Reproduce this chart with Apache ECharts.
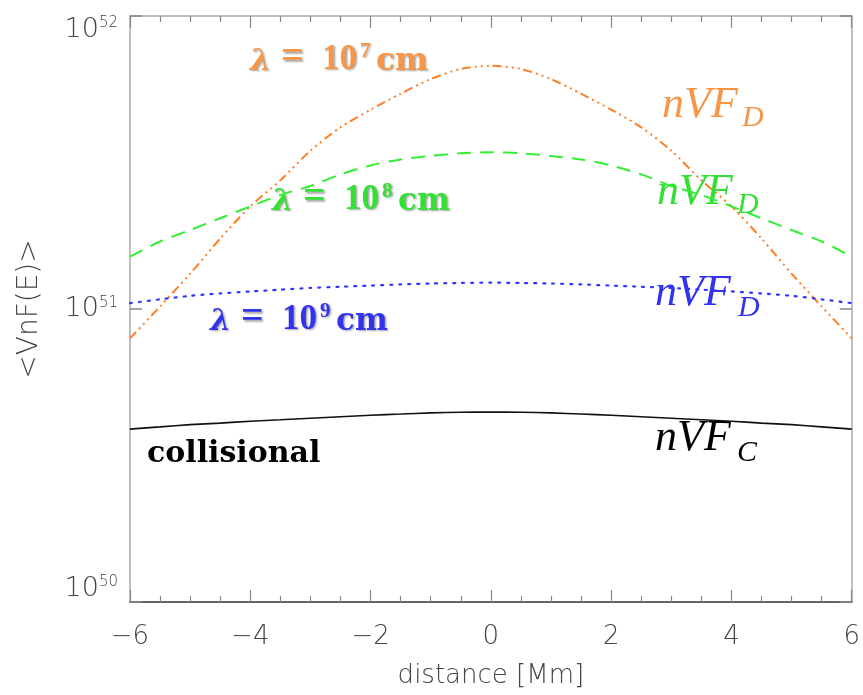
<!DOCTYPE html>
<html>
<head>
<meta charset="utf-8">
<script src="https://cdn.jsdelivr.net/npm/echarts@6/dist/echarts.min.js"></script>
<style>
  html, body { margin: 0; padding: 0; background: #fff; }
  #chart { width: 863px; height: 695px; }
</style>
</head>
<body>
<div id="chart"></div>
<script>
// distance [Mm]
var distance = [-6, -5.5, -5, -4.5, -4, -3.5, -3, -2.5, -2, -1.5, -1, -0.5, 0,
                 0.5, 1, 1.5, 2, 2.5, 3, 3.5, 4, 4.5, 5, 5.5, 6];

// <VnF(E)>
var lambda7 = [7.94e50, 1.02e51, 1.32e51, 1.74e51, 2.24e51, 2.75e51, 3.47e51, 4.17e51, 4.79e51, 5.43e51, 6.09e51, 6.60e51, 6.76e51,
               6.60e51, 6.09e51, 5.43e51, 4.79e51, 4.17e51, 3.47e51, 2.75e51, 2.24e51, 1.74e51, 1.32e51, 1.02e51, 7.94e50];
var lambda8 = [1.51e51, 1.70e51, 1.86e51, 2.04e51, 2.24e51, 2.45e51, 2.63e51, 2.88e51, 3.09e51, 3.24e51, 3.33e51, 3.40e51, 3.43e51,
               3.40e51, 3.33e51, 3.24e51, 3.09e51, 2.88e51, 2.63e51, 2.45e51, 2.24e51, 2.04e51, 1.86e51, 1.70e51, 1.51e51];
var lambda9 = [1.047e51, 1.079e51, 1.109e51, 1.130e51, 1.148e51, 1.164e51, 1.180e51, 1.191e51, 1.202e51, 1.213e51, 1.222e51, 1.227e51, 1.230e51,
               1.227e51, 1.222e51, 1.213e51, 1.202e51, 1.191e51, 1.180e51, 1.164e51, 1.148e51, 1.130e51, 1.109e51, 1.079e51, 1.047e51];
var collisional = [3.89e50, 3.96e50, 4.03e50, 4.08e50, 4.14e50, 4.19e50, 4.24e50, 4.29e50, 4.34e50, 4.38e50, 4.42e50, 4.44e50, 4.45e50,
                   4.44e50, 4.42e50, 4.38e50, 4.34e50, 4.29e50, 4.24e50, 4.19e50, 4.14e50, 4.08e50, 4.03e50, 3.96e50, 3.89e50];

function pairs(ys) {
  return distance.map(function (x, i) { return [x, ys[i]]; });
}

var chart = echarts.init(document.getElementById('chart'));
var axisFont = 'DejaVu Sans';

// y tick labels as 10^n
var yLabel = {
  color: '#444',
  margin: 12,
  verticalAlignMinLabel: 'bottom',
  verticalAlignMaxLabel: 'top',
  formatter: function (v) {
    var e = Math.round(Math.log10(v));
    return '{b|10}{s|' + e + '}';
  },
  rich: {
    b: { fontSize: 27, fontFamily: axisFont, fontWeight: 200, color: '#444' },
    s: { fontSize: 15, fontFamily: axisFont, fontWeight: 200, color: '#444', verticalAlign: 'top', padding: [0, 0, 12, 0] }
  }
};

// put a text piece so that its baseline sits at y
function piece(text, x, baseline, size, st) {
  return { type: 'text', left: x, top: Math.round(baseline - 0.85 * size),
           style: Object.assign({ text: text, fontSize: size }, st) };
}

// lambda labels (bold serif with soft shadow)
function lamLabel(x, baseline, color, exp) {
  var st = { fontFamily: 'Liberation Serif', fontWeight: 'bold', fill: color,
             textShadowColor: 'rgba(0,0,0,0.35)', textShadowBlur: 2, textShadowOffsetX: 1.5, textShadowOffsetY: 1.5 };
  var slab = Object.assign({}, st, { fontFamily: 'DejaVu Serif' });
  return [
    piece('λ', x, baseline, 30, Object.assign({}, slab, { fontStyle: 'italic' })),
    piece('=', x + 31, baseline, 40, st),
    piece('10', x + 72, baseline, 35, st),
    piece('' + exp, x + 110, baseline - 13, 21, st),
    piece('cm', x + 126, baseline, 31, slab)
  ];
}

// nVF_x labels (italic serif)
function nvfLabel(x, baseline, xs, subBase, color, sub) {
  var st = { fontFamily: 'Liberation Serif', fontStyle: 'italic', fill: color };
  return [
    piece('nVF', x, baseline, 44, st),
    piece(sub, xs, subBase, 30, st)
  ];
}

var graphics = []
  .concat(lamLabel(250, 72, '#f79646', 7))
  .concat(lamLabel(272, 212, '#33e033', 8))
  .concat(lamLabel(210, 332, '#3333ee', 9))
  .concat([piece('collisional', 147, 464, 30, { fontFamily: 'DejaVu Serif', fontWeight: 'bold', fill: '#000' })])
  .concat(nvfLabel(662, 120, 742, 128, '#f79646', 'D'))
  .concat(nvfLabel(657, 207, 737, 215, '#33e033', 'D'))
  .concat(nvfLabel(655, 308, 738, 318, '#3333ee', 'D'))
  .concat(nvfLabel(655, 453, 737, 463, '#000', 'C'));

chart.setOption({
  animation: false,
  backgroundColor: '#fff',
  grid: { left: 130, right: 9, top: 16, bottom: 93 },
  xAxis: [{
    type: 'value', min: -6, max: 6, interval: 2,
    name: 'distance [Mm]', nameLocation: 'middle', nameGap: 61,
    nameTextStyle: { fontFamily: axisFont, fontWeight: 200, fontSize: 26, color: '#444' },
    axisLine: { show: true, onZero: false, lineStyle: { color: '#333', width: 1.5 } },
    axisTick: { show: true, inside: true, length: 12, lineStyle: { color: '#888', width: 1.2 } },
    minorTick: { show: true, splitNumber: 4, length: 6, lineStyle: { color: '#888', width: 1.2 } },
    axisLabel: { fontFamily: axisFont, fontWeight: 200, fontSize: 26, color: '#444', margin: 22,
                 formatter: function (v) { return v < 0 ? '\u2212' + (-v) : '' + v; } },
    splitLine: { show: false }
  }, {
    type: 'value', min: -6, max: 6, interval: 2, position: 'top',
    axisLine: { show: true, onZero: false, lineStyle: { color: '#aaa', width: 1.5 } },
    axisTick: { show: true, inside: true, length: 12, lineStyle: { color: '#888', width: 1.2 } },
    minorTick: { show: true, splitNumber: 4, length: 6, lineStyle: { color: '#888', width: 1.2 } },
    axisLabel: { show: false },
    splitLine: { show: false }
  }],
  yAxis: [{
    type: 'log', logBase: 10, min: 1e50, max: 1e52,
    name: '<VnF(E)>', nameLocation: 'middle', nameGap: 86,
    nameTextStyle: { fontFamily: axisFont, fontWeight: 200, fontSize: 28, color: '#444' },
    axisLine: { show: true, onZero: false, lineStyle: { color: '#aaa', width: 1.5 } },
    axisTick: { show: true, inside: true, length: 12, lineStyle: { color: '#888', width: 1.5 } },
    axisLabel: yLabel,
    splitLine: { show: false }
  }, {
    type: 'log', logBase: 10, min: 1e50, max: 1e52, position: 'right',
    axisLine: { show: true, onZero: false, lineStyle: { color: '#aaa', width: 1.5 } },
    axisTick: { show: true, inside: true, length: 12, lineStyle: { color: '#888', width: 1.5 } },
    axisLabel: { show: false },
    splitLine: { show: false }
  }],
  series: [{
    name: 'lambda 1e7', type: 'line', data: pairs(lambda7), symbol: 'none', smooth: 0.25,
    lineStyle: { color: '#ff7f27', width: 2, type: [9, 4, 2, 4, 2, 4, 2, 4] }
  }, {
    name: 'lambda 1e8', type: 'line', data: pairs(lambda8), symbol: 'none', smooth: 0.25,
    lineStyle: { color: '#33ee33', width: 2, type: [14, 9] }
  }, {
    name: 'lambda 1e9', type: 'line', data: pairs(lambda9), symbol: 'none', smooth: 0.25,
    lineStyle: { color: '#3333ff', width: 2.2, type: [2, 7], cap: 'round' }
  }, {
    name: 'collisional', type: 'line', data: pairs(collisional), symbol: 'none', smooth: 0.25,
    lineStyle: { color: '#111', width: 1.6 }
  }],
  graphic: graphics
});
</script>
</body>
</html>
